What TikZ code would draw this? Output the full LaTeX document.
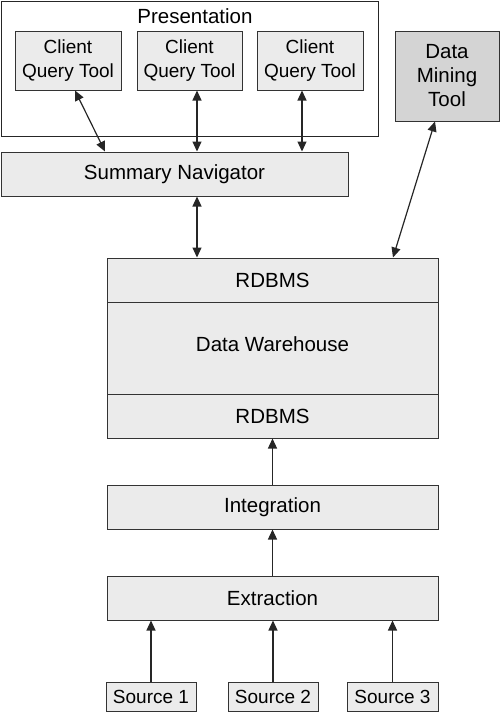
\documentclass[tikz,border=0pt]{standalone}
\usepackage{fontspec}
\setmainfont{Liberation Sans}
\usetikzlibrary{arrows.meta}

\begin{document}
\begin{tikzpicture}[x=1pt, y=-1pt, line width=1pt,
  box/.style={draw=black!80, fill=black!8, inner sep=0pt, align=center,
    font=\fontsize{20.5}{24}\selectfont},
  smallbox/.style={box, font=\fontsize{19}{24}\selectfont},
  link/.style={draw=black!85, line width=1.2pt, -{Triangle[length=10pt,width=9pt]}},
  both/.style={link, {Triangle[length=10pt,width=9pt]}-{Triangle[length=10pt,width=9pt]}}]
\useasboundingbox (0,0) rectangle (500,713);

% presentation layer
\node[draw=black!85, minimum width=377pt, minimum height=135pt, inner sep=0pt] (pres) at (189.5,68.5) {};
\node[font=\fontsize{20.5}{24}\selectfont] (prestitle) at (195,16) {Presentation};
\node[smallbox, minimum width=106pt, minimum height=59pt] (cq1) at (68,60.5) {Client\\Query Tool};
\node[smallbox, minimum width=105pt, minimum height=59pt] (cq2) at (189.5,60.5) {Client\\Query Tool};
\node[smallbox, minimum width=106pt, minimum height=59pt] (cq3) at (310,60.5) {Client\\Query Tool};
\node[box, fill=black!17, minimum width=104pt, minimum height=90pt] (mining) at (447,76) {Data\\Mining\\Tool};

\node[box, minimum width=347pt, minimum height=44pt] (nav) at (174.5,174) {Summary Navigator};

% warehouse
\node[box, minimum width=331pt, minimum height=44pt] (rdtop) at (272.5,280) {RDBMS};
\node[box, minimum width=331pt, minimum height=92pt, text depth=8pt] (dw) at (272.5,348) {Data Warehouse};
\node[box, minimum width=331pt, minimum height=44pt] (rdbot) at (272.5,416) {RDBMS};

\node[box, minimum width=331pt, minimum height=44pt] (integ) at (272.5,507) {Integration};
\node[box, minimum width=331pt, minimum height=44pt] (extr) at (272.5,598) {Extraction};

\node[smallbox, minimum width=90pt, minimum height=29pt] (src1) at (151,696.5) {Source 1};
\node[smallbox, minimum width=90pt, minimum height=29pt] (src2) at (273,696.5) {Source 2};
\node[smallbox, minimum width=91pt, minimum height=29pt] (src3) at (392.5,696.5) {Source 3};

% connectors
\draw[both] ([xshift=7pt]cq1.south) -- ([xshift=-69.5pt]nav.north);
\draw[both] ([xshift=7.5pt]cq2.south) -- ([xshift=7.5pt]cq2.south |- nav.north);
\draw[both] ([xshift=-8pt]cq3.south) -- ([xshift=-8pt]cq3.south |- nav.north);
\draw[both] ([xshift=22.5pt]nav.south) -- ([xshift=22.5pt]nav.south |- rdtop.north);
\draw[both] ([xshift=-12pt]mining.south) -- ([xshift=120.5pt]rdtop.north);
\draw[link] (integ.north) -- (rdbot.south);
\draw[link] (extr.north) -- (integ.south);
\foreach \s in {src1,src2,src3}
  \draw[link] (\s.north) -- (\s.north |- extr.south);
\end{tikzpicture}
\end{document}
